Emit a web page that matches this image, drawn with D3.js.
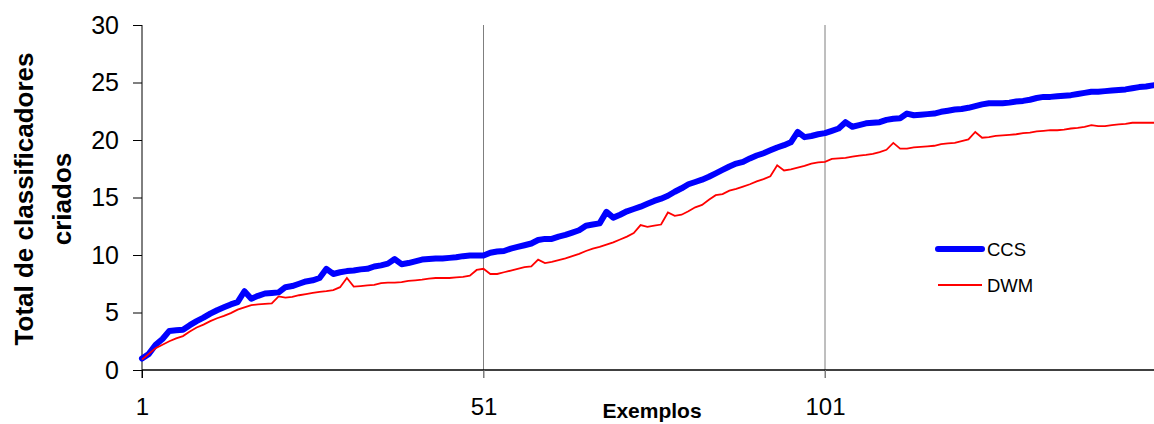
<!DOCTYPE html>
<html>
<head>
<meta charset="utf-8">
<script src="https://cdn.jsdelivr.net/npm/d3@7"></script>
<style>
  html, body { margin: 0; padding: 0; background: #fff; }
  svg { display: block; font-family: "Liberation Sans", Arial, sans-serif; }
</style>
</head>
<body>
<svg id="chart" width="1154" height="424"></svg>
<script>
// Total number of classifiers created as examples arrive
const ccs = [
  1.0, 1.4, 2.2, 2.7, 3.4, 3.45, 3.5, 3.9, 4.25, 4.55,
  4.9, 5.2, 5.45, 5.7, 5.9, 6.85, 6.2, 6.45, 6.65, 6.7,
  6.75, 7.2, 7.3, 7.5, 7.7, 7.8, 8.0, 8.8, 8.35, 8.5,
  8.6, 8.65, 8.75, 8.8, 9.0, 9.1, 9.25, 9.65, 9.2, 9.3,
  9.45, 9.6, 9.65, 9.7, 9.7, 9.75, 9.8, 9.9, 9.95, 9.95,
  9.95, 10.2, 10.3, 10.35, 10.55, 10.7, 10.85, 11.0, 11.3, 11.4,
  11.4, 11.6, 11.75, 11.95, 12.15, 12.55, 12.65, 12.75, 13.75, 13.25,
  13.5, 13.8, 14.0, 14.2, 14.45, 14.7, 14.9, 15.15, 15.5, 15.8,
  16.15, 16.35, 16.55, 16.8, 17.1, 17.4, 17.7, 17.95, 18.1, 18.4,
  18.65, 18.85, 19.1, 19.35, 19.55, 19.8, 20.7, 20.25, 20.35, 20.5,
  20.6, 20.8, 21.0, 21.55, 21.15, 21.3, 21.45, 21.5, 21.55, 21.75,
  21.85, 21.9, 22.3, 22.15, 22.2, 22.25, 22.3, 22.45, 22.55, 22.65,
  22.7, 22.8, 22.95, 23.1, 23.2, 23.2, 23.2, 23.25, 23.35, 23.4,
  23.5, 23.65, 23.75, 23.75, 23.8, 23.85, 23.9, 24.0, 24.1, 24.2,
  24.2, 24.25, 24.3, 24.35, 24.4, 24.5, 24.6, 24.65, 24.75, 24.85
];
const dwm = [
  0.9, 1.4, 1.9, 2.2, 2.5, 2.75, 2.95, 3.35, 3.7, 3.95,
  4.25, 4.5, 4.7, 4.95, 5.25, 5.45, 5.65, 5.7, 5.75, 5.8,
  6.4, 6.3, 6.35, 6.5, 6.6, 6.7, 6.8, 6.85, 6.95, 7.2,
  8.0, 7.25, 7.3, 7.35, 7.4, 7.55, 7.6, 7.6, 7.65, 7.75,
  7.8, 7.85, 7.95, 8.0, 8.0, 8.0, 8.05, 8.1, 8.2, 8.7,
  8.8, 8.35, 8.35, 8.5, 8.65, 8.8, 8.95, 9.0, 9.6, 9.3,
  9.4, 9.55, 9.7, 9.9, 10.1, 10.35, 10.55, 10.7, 10.9, 11.1,
  11.35, 11.6, 11.9, 12.6, 12.45, 12.55, 12.65, 13.7, 13.4, 13.5,
  13.8, 14.15, 14.35, 14.8, 15.2, 15.3, 15.6, 15.75, 15.95, 16.15,
  16.4, 16.6, 16.85, 17.8, 17.35, 17.45, 17.6, 17.75, 17.95, 18.05,
  18.1, 18.35, 18.4, 18.45, 18.55, 18.65, 18.7, 18.8, 18.95, 19.15,
  19.75, 19.25, 19.25, 19.35, 19.4, 19.45, 19.5, 19.65, 19.7, 19.75,
  19.9, 20.05, 20.7, 20.2, 20.25, 20.35, 20.4, 20.45, 20.5, 20.6,
  20.65, 20.75, 20.8, 20.85, 20.85, 20.9, 21.0, 21.05, 21.15, 21.3,
  21.2, 21.2, 21.3, 21.35, 21.4, 21.5, 21.5, 21.5, 21.5, 21.5
];
const xTickLabels = [1, 51, 101];
const yTicks = [0, 5, 10, 15, 20, 25, 30];
const seriesNames = ["CCS", "DWM"];

const svg = d3.select("#chart");
const plotLeft = 142, plotTop = 25, plotBottom = 370;
const x = d3.scaleLinear().domain([1, 150]).range([plotLeft, plotLeft + 149 * 6.83]);
const y = d3.scaleLinear().domain([0, 30]).range([plotBottom, plotTop]);

// vertical gridlines at labelled categories
svg.append("g").selectAll("line")
  .data(xTickLabels.filter(d => d !== 1))
  .join("line")
  .attr("x1", d => x(d)).attr("x2", d => x(d))
  .attr("y1", plotTop).attr("y2", plotBottom + 8)
  .attr("stroke", "#7f7f7f").attr("stroke-width", 1);

// y axis
const yAxis = d3.axisLeft(y).tickValues(yTicks).tickSize(9).tickPadding(14);
const gy = svg.append("g").attr("transform", `translate(${plotLeft},0)`).call(yAxis);
gy.select(".domain").attr("d", `M0,${plotTop}V${plotBottom + 8}`).attr("stroke", "#000");
gy.selectAll(".tick line").attr("stroke", "#000");
gy.selectAll(".tick text").attr("font-size", 25).attr("fill", "#000")
  .attr("font-family", "Liberation Sans, Arial, sans-serif");

// x axis
const xAxis = d3.axisBottom(x).tickValues(xTickLabels).tickSize(8).tickPadding(20);
const gx = svg.append("g").attr("transform", `translate(0,${plotBottom})`).call(xAxis);
gx.select(".domain").attr("d", `M${plotLeft},0H1154`).attr("stroke", "#000").attr("stroke-width", 1.5);
gx.selectAll(".tick line").attr("stroke", d => d === 1 ? "#000" : "#7f7f7f");
gx.selectAll(".tick text").attr("font-size", 24).attr("fill", "#000")
  .attr("font-family", "Liberation Sans, Arial, sans-serif");

// axis titles
svg.append("text")
  .attr("x", 652).attr("y", 418)
  .attr("text-anchor", "middle")
  .attr("font-size", 21).attr("font-weight", "bold")
  .text("Exemplos");

const yTitle = svg.append("text")
  .attr("transform", "translate(0,199) rotate(-90)")
  .attr("text-anchor", "middle")
  .attr("font-size", 26).attr("font-weight", "bold");
yTitle.append("tspan").attr("x", 0).attr("y", 33).text("Total de classificadores");
yTitle.append("tspan").attr("x", 0).attr("y", 71).text("criados");

// series lines
const line = d3.line().x((d, i) => x(i + 1)).y(d => y(d));

svg.append("path").datum(ccs)
  .attr("d", line).attr("fill", "none")
  .attr("stroke", "#0000ff").attr("stroke-width", 6)
  .attr("stroke-linejoin", "round").attr("stroke-linecap", "round");

svg.append("path").datum(dwm)
  .attr("d", line).attr("fill", "none")
  .attr("stroke", "#ff0000").attr("stroke-width", 1.8)
  .attr("stroke-linejoin", "miter");

// legend
const legend = svg.append("g");
const legendRows = [
  { name: seriesNames[0], color: "#0000ff", width: 6, yPos: 249 },
  { name: seriesNames[1], color: "#ff0000", width: 1.8, yPos: 285 }
];
legendRows.forEach(r => {
  legend.append("line")
    .attr("x1", 938).attr("x2", 982)
    .attr("y1", r.yPos).attr("y2", r.yPos)
    .attr("stroke", r.color).attr("stroke-width", r.width)
    .attr("stroke-linecap", r.width > 3 ? "round" : "butt");
  legend.append("text")
    .attr("x", 987).attr("y", r.yPos + 7)
    .attr("font-size", 18.5)
    .text(r.name);
});
</script>
</body>
</html>
